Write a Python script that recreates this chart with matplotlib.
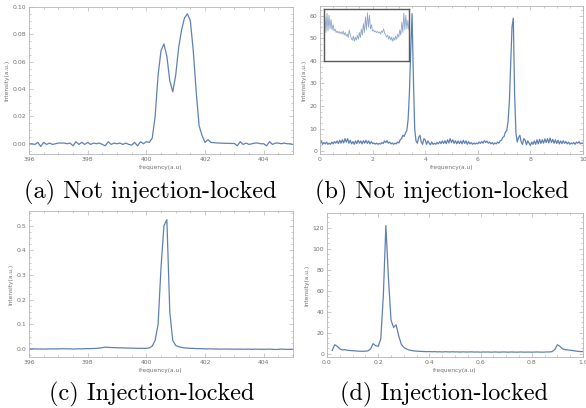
import numpy as np
import matplotlib

matplotlib.use("Agg")
import matplotlib.pyplot as plt
from matplotlib.ticker import MultipleLocator, AutoMinorLocator

# (a) not injection-locked, narrow window
freq_a = np.round(np.arange(396.0, 405.0001, 0.1), 2)
int_a = [
    0.000, 0.000, -0.0005, 0.001, -0.002, 0.001, -0.0005, 0.0005, -0.0005, 0.000,
    0.0005, 0.0005, 0.0005, 0.000, 0.0005, -0.0015, 0.0015, -0.0005, 0.001, -0.0005,
    0.001, -0.0005, 0.0005, 0.000, 0.0005, -0.0005, -0.0015, 0.0015, -0.0005, 0.0005,
    0.000, 0.0005, -0.0005, 0.0005, -0.0005, -0.001, 0.001, -0.0015, 0.0015, 0.000,
    0.0015, 0.001, 0.004, 0.020, 0.050, 0.068, 0.073, 0.064, 0.046, 0.038,
    0.050, 0.070, 0.083, 0.092, 0.095, 0.090, 0.068, 0.038, 0.013, 0.006,
    0.001, 0.003, 0.001, 0.0008, 0.0006, 0.0005, 0.0004, 0.0003, 0.0003, 0.0002,
    0.0002, -0.0015, 0.0015, -0.0005, 0.0005, -0.0005, 0.000, 0.0005, 0.0005, 0.000,
    0.000, -0.0015, 0.0015, -0.0005, 0.0005, 0.0005, 0.000, 0.0005, 0.000, 0.000,
    -0.0005,
]

# (b) not injection-locked, wide window
freq_b = np.round(np.arange(0.0, 10.0001, 0.05), 2)
int_b = [
    3.5, 4.5, 3.0, 3.8, 3.2, 4.0, 3.0, 3.5, 3.0, 4.0,
    3.2, 4.2, 3.5, 4.5, 3.3, 4.8, 3.5, 5.0, 3.6, 5.5,
    4.0, 5.5, 3.5, 4.8, 3.2, 4.2, 3.0, 4.5, 3.3, 4.8,
    3.5, 4.5, 3.2, 4.6, 3.5, 4.8, 3.4, 4.5, 3.2, 4.2,
    3.3, 3.6, 3.1, 3.5, 3.0, 3.4, 3.1, 3.8, 3.3, 4.5,
    3.8, 4.6, 3.5, 4.0, 3.2, 3.6, 3.0, 3.5, 3.2, 4.0,
    3.6, 5.0, 5.5, 7.0, 6.5, 8.0, 9.0, 14.0, 26.0, 45.0,
    61.0, 33.0, 10.0, 4.5, 3.5, 6.0, 7.0, 4.0, 3.0, 5.5,
    5.0, 3.0, 4.5, 3.5, 2.8, 4.0, 3.0, 3.5, 3.0, 3.8,
    3.2, 4.2, 3.3, 4.5, 3.4, 4.6, 3.3, 5.0, 3.6, 5.5,
    3.8, 5.0, 3.4, 4.6, 3.2, 4.5, 3.3, 4.5, 3.2, 4.8,
    3.4, 4.5, 3.0, 4.2, 3.2, 3.8, 3.0, 3.6, 3.1, 3.6,
    3.2, 4.0, 3.4, 4.2, 3.5, 4.6, 3.8, 4.4, 3.5, 4.0,
    3.2, 3.8, 3.0, 3.6, 3.2, 4.0, 3.5, 4.5, 4.8, 6.0,
    6.5, 8.5, 9.0, 13.0, 22.0, 38.0, 55.0, 59.0, 25.0, 8.0,
    4.0, 6.0, 7.0, 4.0, 3.0, 5.5, 4.8, 2.8, 4.5, 3.5,
    2.5, 4.0, 3.0, 4.5, 3.0, 5.0, 3.2, 5.2, 3.4, 5.0,
    3.5, 5.4, 3.8, 5.5, 3.6, 5.8, 3.8, 5.2, 3.5, 5.0,
    3.4, 4.8, 3.2, 4.5, 3.3, 4.6, 3.4, 4.2, 3.2, 4.0,
    3.0, 3.6, 3.2, 3.8, 3.0, 4.0, 3.5, 4.2, 3.2, 3.6,
    3.4,
]

# inset in (b): normalised trace
inset_y = [
    0.60, 0.85, 0.55, 0.92, 0.58, 0.88, 0.62, 0.80, 0.60, 0.70,
    0.58, 0.62, 0.55, 0.58, 0.54, 0.57, 0.53, 0.56, 0.52, 0.58,
    0.50, 0.55, 0.48, 0.52, 0.45, 0.60, 0.50, 0.44, 0.40, 0.48,
    0.38, 0.46, 0.40, 0.50, 0.42, 0.55, 0.45, 0.62, 0.50, 0.72,
    0.55, 0.85, 0.60, 0.93, 0.65, 0.88, 0.62, 0.70, 0.58, 0.60,
    0.56, 0.58, 0.55, 0.57, 0.54, 0.56, 0.52, 0.58, 0.55, 0.62,
    0.54, 0.50, 0.46, 0.50, 0.42, 0.48, 0.40, 0.46, 0.38, 0.45,
    0.40, 0.48, 0.42, 0.52, 0.46, 0.60, 0.50, 0.75, 0.55, 0.92,
    0.60, 0.88, 0.62, 0.78, 0.60,
]

# (c) injection-locked, narrow window
freq_c = np.round(np.arange(396.0, 405.0001, 0.1), 2)
int_c = [
    0.001, 0.001, 0.001, 0.0005, 0.0005, 0.000, 0.0005, 0.001, 0.001, 0.001,
    0.001, 0.0015, 0.0015, 0.001, 0.001, 0.0005, 0.001, 0.0015, 0.001, 0.0015,
    0.002, 0.002, 0.0025, 0.003, 0.004, 0.006, 0.008, 0.007, 0.0065, 0.006,
    0.0055, 0.005, 0.005, 0.0045, 0.004, 0.004, 0.0035, 0.003, 0.0035, 0.003,
    0.003, 0.005, 0.012, 0.035, 0.10, 0.33, 0.50, 0.525, 0.15, 0.035,
    0.015, 0.010, 0.007, 0.005, 0.004, 0.003, 0.003, 0.002, 0.002, 0.0015,
    0.001, 0.001, 0.001, 0.0005, 0.0005, 0.000, 0.000, 0.0005, 0.000, 0.000,
    -0.0005, 0.000, 0.000, -0.0005, -0.0005, 0.000, -0.001, 0.000, -0.0005, -0.0005,
    -0.001, -0.0005, 0.000, -0.001, -0.0015, -0.001, 0.000, -0.0005, -0.001, -0.001,
    -0.001,
]

# (d) injection-locked, wide window
freq_d = np.round(np.arange(0.02, 1.0001, 0.01), 2)
int_d = [
    3.0, 8.5, 7.0, 4.5, 3.5, 3.8, 3.2, 3.0, 2.8, 2.6,
    2.4, 2.3, 2.2, 2.4, 2.6, 4.5, 9.5, 7.5, 7.0, 14.0,
    55.0, 122.0, 72.0, 32.0, 25.0, 27.5, 17.0, 9.0, 6.0, 4.5,
    3.5, 3.0, 2.6, 2.4, 2.2, 2.1, 2.0, 1.9, 2.0, 1.8,
    1.9, 1.7, 1.8, 1.6, 1.8, 1.7, 1.6, 1.8, 1.6, 1.7,
    1.5, 1.7, 1.6, 1.5, 1.7, 1.6, 1.5, 1.6, 1.4, 1.6,
    1.5, 1.6, 1.4, 1.5, 1.6, 1.4, 1.5, 1.6, 1.5, 1.4,
    1.6, 1.5, 1.4, 1.5, 1.6, 1.4, 1.5, 1.5, 1.4, 1.5,
    1.6, 1.5, 1.4, 1.5, 1.6, 1.6, 2.0, 4.0, 8.5, 7.0,
    4.5, 3.8, 3.5, 3.2, 3.0, 2.5, 2.2, 2.0, 2.0,
]

captions = ["(a) Not injection-locked", "(b) Not injection-locked",
            "(c) Injection-locked", "(d) Injection-locked"]

BLUE = "#5E81B5"
FRAME = "#b5b5b5"
TXT = "#707070"


def style(ax, xmaj, ymaj, xfmt=None, yfmt=None):
    for s in ax.spines.values():
        s.set_color(FRAME)
        s.set_linewidth(0.6)
    ax.xaxis.set_major_locator(MultipleLocator(xmaj))
    ax.yaxis.set_major_locator(MultipleLocator(ymaj))
    ax.xaxis.set_minor_locator(AutoMinorLocator(4))
    ax.yaxis.set_minor_locator(AutoMinorLocator(4))
    ax.tick_params(which="both", direction="in", top=True, right=True,
                   color=FRAME, width=0.5, labelcolor=TXT, labelsize=4.4, pad=2)
    ax.tick_params(which="major", length=3)
    ax.tick_params(which="minor", length=1.5)
    if xfmt:
        ax.xaxis.set_major_formatter(xfmt)
    if yfmt:
        ax.yaxis.set_major_formatter(yfmt)
    ax.set_xlabel("frequency(a.u)", fontsize=4.2, color=TXT, labelpad=2)
    ax.set_ylabel("Intensity(a.u.)", fontsize=4.2, color=TXT, labelpad=2)


W, H = 586, 408
fig = plt.figure(figsize=(W / 100, H / 100), dpi=100)


def box(l, r, t, b):
    return [l / W, 1 - b / H, (r - l) / W, (b - t) / H]


ax_a = fig.add_axes(box(29, 293, 7, 154))
ax_a.plot(freq_a, int_a, color=BLUE, lw=0.9)
ax_a.set_xlim(396, 405)
ax_a.set_ylim(-0.0075, 0.10)
style(ax_a, 2, 0.02, "{x:.0f}", "{x:.2f}")

ax_b = fig.add_axes(box(320, 583, 6, 154))
ax_b.plot(freq_b, int_b, color=BLUE, lw=0.9)
ax_b.set_xlim(0, 10)
ax_b.set_ylim(-1.3, 64.4)
style(ax_b, 2, 10, "{x:.0f}", "{x:.0f}")
ins = ax_b.inset_axes([0.015, 0.628, 0.323, 0.351])
ins.plot(np.linspace(0, 1, len(inset_y)), inset_y, color=BLUE, lw=0.6, alpha=0.7)
ins.set_xlim(0, 1)
ins.set_ylim(0, 1)
ins.set_xticks([])
ins.set_yticks([])
ins.set_facecolor("white")
for s in ins.spines.values():
    s.set_color("#5a5a5a")
    s.set_linewidth(1.0)

ax_c = fig.add_axes(box(29, 293, 211, 357))
ax_c.plot(freq_c, int_c, color=BLUE, lw=0.9)
ax_c.set_xlim(396, 405)
ax_c.set_ylim(-0.032, 0.56)
style(ax_c, 2, 0.1, "{x:.0f}", "{x:.1f}")

ax_d = fig.add_axes(box(327, 583, 213, 357))
ax_d.plot(freq_d, int_d, color=BLUE, lw=0.9)
ax_d.set_xlim(0, 1.0)
ax_d.set_ylim(-3.2, 134)
style(ax_d, 0.2, 20, "{x:.1f}", "{x:.0f}")

cap_pos = [(150, 192), (442, 192), (152, 394), (444, 394)]
for (cx, cy), txt in zip(cap_pos, captions):
    fig.text(cx / W, 1 - cy / H, txt, ha="center", va="center",
             fontfamily="cmr10", fontsize=17.5)

fig.savefig("out.png", dpi=100)
